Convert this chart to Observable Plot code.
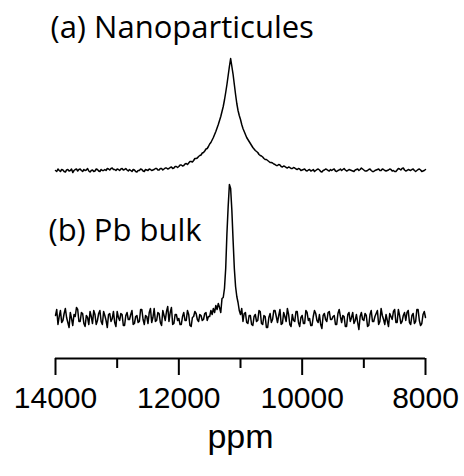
<!DOCTYPE html>
<html>
<head>
<meta charset="utf-8">
<script src="https://cdn.jsdelivr.net/npm/d3@7"></script>
<script src="https://cdn.jsdelivr.net/npm/@observablehq/plot@0.6"></script>
<style>
  html, body { margin: 0; padding: 0; background: #fff; }
</style>
</head>
<body>
<div id="chart"></div>
<script>
// Chemical shift axis (ppm), sampled every 20 ppm from 14000 down to 8000
const ppmStart = 14000, ppmStep = 20;
const majorTicks = [14000, 12000, 10000, 8000];
const minorTicks = [13000, 11000, 9000];
const titleA = "(a) Nanoparticules";
const titleB = "(b) Pb bulk";
const axisLabel = "ppm";

// (a) Nanoparticules — intensity (a.u.), 301 points
const nanoIntensity = [
  0, -1, 1.5, 0, -1, 1, 0.5, -1, -1.5, 0.5, 1, -0.5, 0, 1.5, -2, 0, 1, 1.5, -0.5, 1,
  1.5, 0, -1, 1, 0, 0.5, 2, -0.5, -1.5, 0, 0.5, -1, -0.5, 1.5, 1, -0.5, -1, 1, 0, 0,
  1, 0, 2, 1.5, 0.5, 2, 2.5, 1, 1, 0, 1.5, 1, 0, 1.5, 2, 0.5, 1, 2, 0.5, -0.5,
  1, 0, -1, 1, 0.5, -1, -1.5, 0, 0, 1.5, 1, -0.5, -1, 1, 0.5, 0, 1.5, 1, 0, 0.5,
  1, 2, 2, 0.5, 0.5, 2, 2, 0.5, 1.5, 2.5, 2.5, 1.5, 2, 3, 3.5, 2, 2.5, 4, 4, 3,
  4, 5.5, 5.5, 4.5, 5, 6.5, 7, 6, 7.5, 9, 9, 8.5, 10, 12, 12, 12.5, 14, 15, 15.5, 17.5,
  18, 19.5, 21.5, 22, 24, 26.5, 28, 30.5, 33, 36, 39, 42.5, 46, 50, 54, 59, 64, 70.5, 78, 86,
  95, 104, 112, 104, 96, 86, 76, 67, 60, 55, 51, 46, 42, 39, 36, 33, 31, 29, 27, 25,
  23, 21.5, 20, 19, 18, 16, 15, 14.5, 13.5, 12, 11, 11, 10, 9, 8, 8, 7.5, 6.5, 6, 5,
  5, 6, 5.5, 4, 3.5, 4.5, 4, 3, 2.5, 3.5, 3, 2, 2, 3, 2.5, 1.5, 1, 2, 1.5, 0,
  0.5, 1, 1.5, 0, -0.5, 0.5, 1, -0.5, 0, 1, -1, 0, 1, 1.5, 0.5, -1, -1.5, 0, 0.5, 1.5,
  1, 0, -0.5, 1, 0, 1, 1.5, -0.5, -1, 0, 0.5, 1.5, 0, 1, 2, 0.5, -0.5, 0, 1, 0.5,
  0, -0.5, -1, 0.5, 1, 1.5, 0, 1, 2.5, 1.5, 0.5, -0.5, -0.5, 0, 1, 1.5, 0, -1, -1, 0,
  0.5, 1, 1.5, 0, 0, 1.5, 1, 0, -0.5, 0, 0.5, 1.5, 1, -0.5, 0, -1, -1, 0.5, 2, 1.5,
  0.5, 2, 2.5, 0.5, -0.5, 0, 1, 0.5, 0, 1, 1.5, 0, -1, 0, 1, 1.5, 0.5, -1, -0.5, 0,
  1
];

// (b) Pb bulk — intensity (a.u.), 301 points
const bulkIntensity = [
  3, 9, -6, 2, 8, -4, -2, 5, 10, 1, -4, -9, 6, 0, -7, 4, 2, 11, 9, -3,
  -3, 6, 5, -5, -8, 3, 1, -6, 7, 2, -5, 8, 4, -6, -2, 5, 8, -3, -6, 7,
  3, -2, -9, 4, 5, -3, 0, 7, -4, -8, 7, 1, -2, 5, 4, -7, -7, 3, 6, -1,
  -1, 4, 8, -6, -5, 2, 3, -4, -3, 9, 9, -1, -6, 3, 2, -5, 6, 10, -4, 1,
  10, -3, -2, 6, 5, -4, -7, 8, 3, -2, 7, 12, -3, 6, 11, -6, -5, 4, 4, -2,
  0, -6, -6, 2, 6, -2, -2, 8, 4, -7, -8, 1, 2, 7, 5, -1, -3, 4, 3, -2,
  -1, 5, 6, -2, 2, 2, 8, 4, 10, 6, 13, 9, 15, 11, 6, 20, 21, 30, 50, 85,
  112, 134, 130, 108, 78, 50, 32, 22, 16, 8, 4, 10, -3, 5, 6, -4, -5, 3, 3, -6,
  -7, 2, 4, -3, -2, 8, 7, -5, -6, 3, 2, -9, -9, 1, 5, -4, -1, 8, 8, 2,
  -4, 3, 9, -6, -5, 6, 2, -3, 10, 4, -6, -8, 4, -2, -3, 7, 7, -4, -8, 1,
  3, -5, -5, 8, 6, -2, 0, -7, -7, 2, 8, 5, -2, -4, 4, -6, -10, 3, 5, -1,
  -3, 6, 7, -1, -1, 2, 3, -6, -6, 5, 9, 2, -4, 3, 2, -8, -8, 4, 6, -3,
  1, 6, -5, -2, 4, -4, -11, 2, 6, -1, -2, 5, 3, -8, -7, 4, 8, -3, -3, 2,
  5, 8, -6, -3, 10, 3, -1, -6, 4, -2, -8, 5, 2, -1, 7, 9, -4, -4, 9, 3,
  -5, -3, 3, 6, -2, 6, 8, -4, -6, 3, 5, -5, -3, 9, 9, -2, -7, -5, 4, 7,
  1
];

// vertical stacking of the two spectra (a.u.)
const offsetA = 188, offsetB = 40;

const rows = [];
nanoIntensity.forEach((v, i) => rows.push({ppm: ppmStart - i * ppmStep, y: v + offsetA, s: "a"}));
bulkIntensity.forEach((v, i) => rows.push({ppm: ppmStart - i * ppmStep, y: v + offsetB, s: "b"}));

const titleFont = '"Comic Sans MS", "Open Sans", sans-serif';

const chart = Plot.plot({
  width: 464,
  height: 476,
  marginLeft: 55,
  marginRight: 39,
  marginTop: 0,
  marginBottom: 118,
  style: {fontFamily: '"Liberation Sans", Arial, sans-serif', background: "white", color: "black"},
  x: {domain: [14000, 8000]},
  y: {domain: [0, 358], axis: null},
  marks: [
    Plot.line(rows, {x: "ppm", y: "y", z: "s", stroke: "black", strokeWidth: 1.5}),
    Plot.ruleY([0], {strokeWidth: 2}),
    Plot.axisX({ticks: minorTicks, tickSize: 10, strokeWidth: 2, tickFormat: () => "", label: null}),
    Plot.axisX({ticks: majorTicks, tickSize: 17, strokeWidth: 2, tickPadding: 11, fontSize: 30,
                tickFormat: d => String(d), label: null}),
    Plot.text([{x: 14000, y: 358 - 37, t: titleA}], {x: "x", y: "y", text: "t", dx: -5,
               textAnchor: "start", lineAnchor: "bottom", fontSize: 31, fontFamily: titleFont}),
    Plot.text([{x: 14000, y: 358 - 240, t: titleB}], {x: "x", y: "y", text: "t", dx: -7,
               textAnchor: "start", lineAnchor: "bottom", fontSize: 31, fontFamily: titleFont}),
    Plot.text([{x: 11000, y: -89, t: axisLabel}], {x: "x", y: "y", text: "t",
               lineAnchor: "bottom", fontSize: 34})
  ]
});
document.getElementById("chart").appendChild(chart);
</script>
</body>
</html>
